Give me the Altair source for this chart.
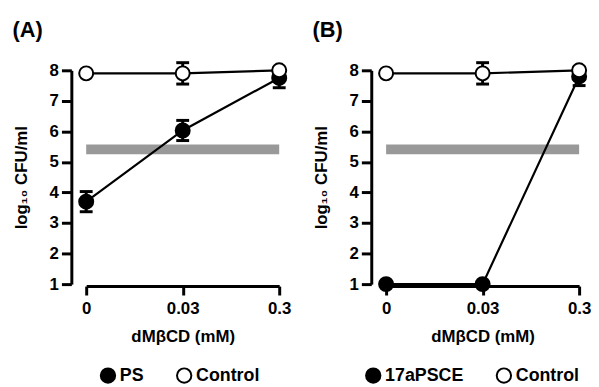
import altair as alt
import pandas as pd

# ---- data ----
doses = ["0", "0.03", "0.3"]
control_mean = [7.9, 7.9, 8.0]
control_err = [0.0, 0.35, 0.1]
ps_mean = [3.7, 6.03, 7.75]
ps_err = [0.33, 0.33, 0.32]
sce_mean = [1.0, 1.0, 7.8]
sce_err = [0.0, 0.0, 0.3]
band_low = 5.25
band_high = 5.57
y_ticks = [1, 2, 3, 4, 5, 6, 7, 8]

FONT = "Liberation Sans"


def make_panel(label, treat_name, treat_mean, treat_err, legend_x):
    rows = []
    for name, means, errs in [(treat_name, treat_mean, treat_err),
                              ("Control", control_mean, control_err)]:
        for d, m, e in zip(doses, means, errs):
            rows.append({"dose": d, "value": m, "err": e, "series": name,
                         "lo": m - e, "hi": m + e})
    df = pd.DataFrame(rows)
    band_df = pd.DataFrame([{"x1": doses[0], "x2": doses[-1],
                             "y1": band_low, "y2": band_high}])

    xscale = alt.Scale(type="point", padding=0, domain=doses)
    yscale = alt.Scale(domain=[1, 8], nice=False, zero=False)

    x_axis = alt.Axis(title="dMβCD (mM)", labelAngle=0, offset=2,
                      tickSize=9, labelPadding=6, titlePadding=12,
                      labelColor="black", domainColor="black",
                      domainWidth=3)
    y_axis = alt.Axis(title="log₁₀ CFU/ml", values=y_ticks, offset=15,
                      tickSize=10, labelPadding=3, titlePadding=19,
                      labelOverlap=False, labelColor="black",
                      domainColor="black", domainWidth=3)

    band = alt.Chart(band_df).mark_rect(color="#999999").encode(
        x=alt.X("x1:O", scale=xscale, axis=x_axis), x2="x2:O",
        y=alt.Y("y1:Q", scale=yscale, axis=y_axis), y2="y2:Q",
    )

    base = alt.Chart(df)
    lines = base.mark_line(color="black", strokeWidth=2.2).encode(
        x=alt.X("dose:O", scale=xscale, axis=x_axis),
        y=alt.Y("value:Q", scale=yscale, axis=y_axis),
        detail="series:N",
    )
    err_df = base.transform_filter("datum.err > 0")
    bars = err_df.mark_rule(color="black", strokeWidth=3, opacity=1).encode(
        x=alt.X("dose:O", scale=xscale, axis=x_axis),
        y=alt.Y("lo:Q", scale=yscale, axis=y_axis), y2="hi:Q",
    )
    cap_lo = err_df.mark_tick(color="black", orient="horizontal",
                              thickness=3, size=13, opacity=1).encode(
        x=alt.X("dose:O", scale=xscale, axis=x_axis),
        y=alt.Y("lo:Q", scale=yscale, axis=y_axis),
    )
    cap_hi = err_df.mark_tick(color="black", orient="horizontal",
                              thickness=3, size=13, opacity=1).encode(
        x=alt.X("dose:O", scale=xscale, axis=x_axis),
        y=alt.Y("hi:Q", scale=yscale, axis=y_axis),
    )
    points = base.mark_point(shape="circle", filled=True, stroke="black",
                             strokeWidth=2, size=200, opacity=1).encode(
        x=alt.X("dose:O", scale=xscale, axis=x_axis),
        y=alt.Y("value:Q", scale=yscale, axis=y_axis),
        fill=alt.Fill(
            "series:N",
            scale=alt.Scale(domain=[treat_name, "Control"],
                            range=["black", "white"]),
            legend=alt.Legend(
                title=None, orient="none", direction="horizontal",
                legendX=legend_x, legendY=299,
                symbolType="circle", symbolSize=210,
                symbolStrokeColor="black", symbolStrokeWidth=2,
                symbolOpacity=1,
                labelFontSize=18, labelFontWeight="bold", labelFont=FONT,
                labelColor="black", columnPadding=28, labelOffset=3,
            ),
        ),
    )

    return alt.layer(band, lines, bars, cap_lo, cap_hi, points).properties(
        width=195, height=216,
        title=alt.TitleParams(label, anchor="start", frame="bounds",
                              fontSize=22, fontWeight="bold", font=FONT,
                              color="black", offset=18),
    ).resolve_scale(fill="independent")


panel_a = make_panel("(A)", "PS", ps_mean, ps_err, 13)
panel_b = make_panel("(B)", "17aPSCE", sce_mean, sce_err, -22)

chart = alt.hconcat(panel_a, panel_b, spacing=21).resolve_scale(
    fill="independent"
).properties(
    padding={"left": 4, "top": 8, "right": 0, "bottom": 0},
    background="white",
).configure_view(stroke=None).configure_axis(
    grid=False, tickWidth=3, tickColor="black",
    labelFontSize=17, labelFontWeight="bold", labelFont=FONT,
    titleFontSize=17, titleFontWeight="bold", titleFont=FONT,
    titleColor="black",
)

chart.save("out.html", embed_options={"renderer": "svg", "actions": False})
